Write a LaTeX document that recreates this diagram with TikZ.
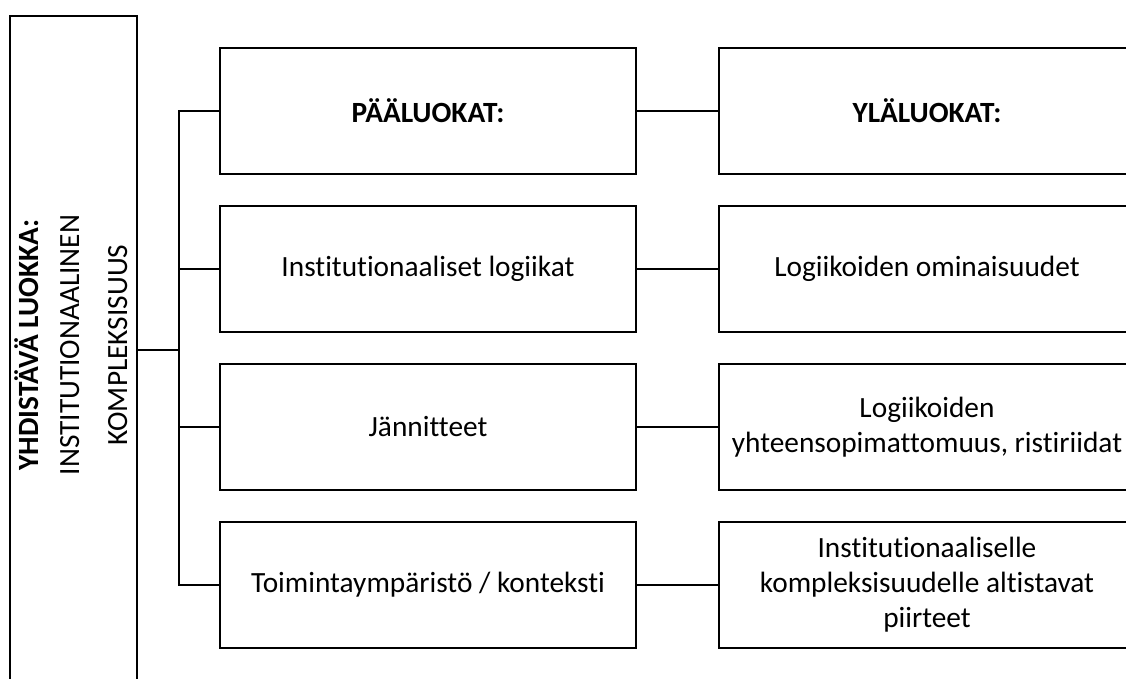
\documentclass[tikz,border=0pt]{standalone}
\usepackage{fontspec}
\setmainfont{Carlito}[Ligatures=NoCommon]
\begin{document}
\begin{tikzpicture}[x=0.75pt, y=-0.75pt, line width=1.5pt,
    laatikko/.style={draw, minimum width=312pt, minimum height=94.5pt,
      inner sep=0pt, align=center, font=\fontsize{22}{26.25}\selectfont},
    pystyteksti/.style={rotate=90, anchor=base, inner sep=0pt,
      font=\fontsize{22}{26.25}\selectfont}]
  \useasboundingbox (0,0) rectangle (1126,678);
  \clip (0,0) rectangle (1126,678);
  % yhdistava luokka
  \node[draw, minimum width=95.25pt, minimum height=513pt] (vasen) at (73.5,358) {};
  \node[pystyteksti, font=\fontsize{22}{26.25}\selectfont\bfseries] (yhd) at (38,345) {YHDISTÄVÄ LUOKKA:};
  \node[pystyteksti] (inst) at (79,345) {INSTITUTIONAALINEN};
  \node[pystyteksti] (komp) at (127,345) {KOMPLEKSISUUS};
  % paaluokat
  \node[laatikko] (paa1) at (428,111) {\bfseries PÄÄLUOKAT:};
  \node[laatikko] (paa2) at (428,269) {Institutionaaliset logiikat};
  \node[laatikko] (paa3) at (428,427) {Jännitteet};
  \node[laatikko] (paa4) at (428,585) {Toimintaympäristö / konteksti};
  % ylaluokat
  \node[laatikko] (yla1) at (927,111) {\bfseries YLÄLUOKAT:};
  \node[laatikko] (yla2) at (927,269) {Logiikoiden ominaisuudet};
  \node[laatikko] (yla3) at (927,427) {Logiikoiden\\yhteensopimattomuus, ristiriidat};
  \node[laatikko] (yla4) at (927,585) {Institutionaaliselle\\kompleksisuudelle altistavat\\piirteet};
  % kytkennat
  \coordinate (hub) at (179,350);
  \draw (vasen.east |- hub) -- (hub);
  \draw (paa1.west) -- (hub |- paa1.west) -- (hub |- paa4.west) -- (paa4.west);
  \draw (hub |- paa2.west) -- (paa2.west);
  \draw (hub |- paa3.west) -- (paa3.west);
  \foreach \i in {1,...,4}
    \draw (paa\i) -- (yla\i);
\end{tikzpicture}
\end{document}
